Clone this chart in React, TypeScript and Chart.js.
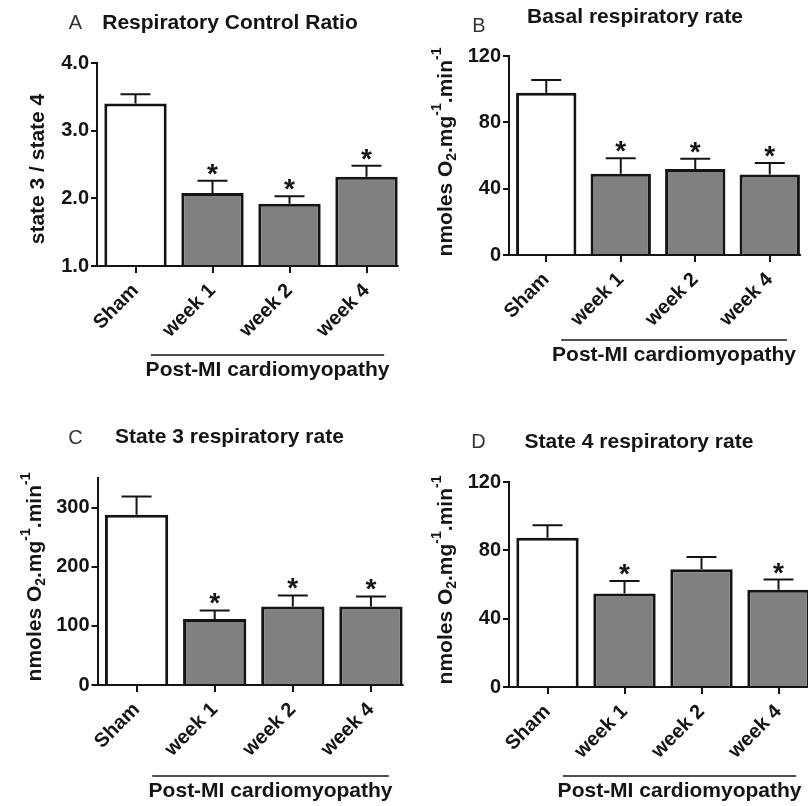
import React, { useEffect, useRef } from 'react';
import { Chart, registerables } from 'chart.js';

Chart.register(...registerables);

// ---------------- data ----------------
const categories = ['Sham', 'week 1', 'week 2', 'week 4'];
const groupLabel = 'Post-MI cardiomyopathy';

const rcrMean = [3.4, 2.08, 1.92, 2.32];
const rcrSem = [0.14, 0.18, 0.11, 0.16];
const rcrSig = [false, true, true, true];

const basalMean = [97.9, 49.0, 51.9, 48.5];
const basalSem = [7.7, 9.3, 6.2, 7.0];
const basalSig = [false, true, true, true];

const state3Mean = [287.7, 111.5, 132.8, 132.8];
const state3Sem = [31.0, 14.5, 18.6, 17.0];
const state3Sig = [false, true, true, true];

const state4Mean = [87.3, 54.7, 68.9, 57.0];
const state4Sem = [7.4, 7.4, 7.2, 5.9];
const state4Sig = [false, true, false, true];

const rcrTicks = [1, 2, 3, 4];
const rateTicks = [0, 40, 80, 120];
const state3Ticks = [0, 100, 200, 300];

const rateTitle: [string, string][] = [
  ['nmoles O', 'n'],
  ['2', 'sub'],
  ['.mg', 'n'],
  ['-1', 'sup'],
  ['.min', 'n'],
  ['-1', 'sup'],
];
const rcrTitle: [string, string][] = [['state 3 / state 4', 'n']];

// ---------------- layout ----------------
const FONT = "'Liberation Sans', Arial, Helvetica, sans-serif";
const INK = '#141414';
const GRAY = '#808080';

type Panel = {
  letter: string;
  title: string;
  yTitle: [string, string][];
  mean: number[];
  sem: number[];
  sig: boolean[];
  ticks: number[];
  yMin: number;
  yMax: number;
  decimals: number;
  box: { x: number; y: number; w: number; h: number };
  area: { left: number; top: number; right: number; bottom: number };
  letterPos: [number, number];
  titlePos: [number, number];
  yTitlePos: [number, number];
  groupDy: number;
};

const panels: Panel[] = [
  {
    letter: 'A', title: 'Respiratory Control Ratio', yTitle: rcrTitle,
    mean: rcrMean, sem: rcrSem, sig: rcrSig, ticks: rcrTicks, yMin: 1, yMax: 4, decimals: 1,
    box: { x: 0, y: 0, w: 410, h: 400 },
    area: { left: 97, top: 63, right: 405, bottom: 266 },
    letterPos: [75.5, 23], titlePos: [230, 23], yTitlePos: [38.5, 169], groupDy: 89,
  },
  {
    letter: 'B', title: 'Basal respiratory rate', yTitle: rateTitle,
    mean: basalMean, sem: basalSem, sig: basalSig, ticks: rateTicks, yMin: 0, yMax: 120, decimals: 0,
    box: { x: 404, y: 0, w: 404, h: 400 },
    area: { left: 509, top: 56, right: 807, bottom: 255 },
    letterPos: [479, 26], titlePos: [635, 17], yTitlePos: [446.5, 152], groupDy: 85,
  },
  {
    letter: 'C', title: 'State 3 respiratory rate', yTitle: rateTitle,
    mean: state3Mean, sem: state3Sem, sig: state3Sig, ticks: state3Ticks, yMin: 0, yMax: 350, decimals: 0,
    box: { x: 0, y: 400, w: 420, h: 406 },
    area: { left: 97.5, top: 478, right: 410, bottom: 685 },
    letterPos: [75.5, 438], titlePos: [229.5, 437], yTitlePos: [35, 577], groupDy: 91,
  },
  {
    letter: 'D', title: 'State 4 respiratory rate', yTitle: rateTitle,
    mean: state4Mean, sem: state4Sem, sig: state4Sig, ticks: rateTicks, yMin: 0, yMax: 120, decimals: 0,
    box: { x: 404, y: 400, w: 420, h: 406 },
    area: { left: 509, top: 482, right: 817, bottom: 687 },
    letterPos: [478.5, 442], titlePos: [639, 442], yTitlePos: [446.5, 580], groupDy: 89,
  },
];

function drawRichVertical(ctx: CanvasRenderingContext2D, parts: [string, string][], cx: number, cy: number) {
  const big = `bold 21px ${FONT}`;
  const small = `bold 14px ${FONT}`;
  ctx.save();
  ctx.textBaseline = 'middle';
  ctx.textAlign = 'left';
  let total = 0;
  const widths = parts.map(([t, k]) => {
    ctx.font = k === 'n' ? big : small;
    const w = ctx.measureText(t).width;
    total += w;
    return w;
  });
  ctx.translate(cx, cy);
  ctx.rotate(-Math.PI / 2);
  let x = -total / 2;
  parts.forEach(([t, k], i) => {
    ctx.font = k === 'n' ? big : small;
    const dy = k === 'sub' ? 6 : k === 'sup' ? -9 : 0;
    ctx.fillStyle = INK;
    ctx.fillText(t, x, dy);
    x += widths[i];
  });
  ctx.restore();
}

function makePlugin(p: Panel) {
  return {
    id: 'panelDecor' + p.letter,
    afterDatasetsDraw(chart: any) {
      const ctx: CanvasRenderingContext2D = chart.ctx;
      const meta = chart.getDatasetMeta(0);
      const ys = chart.scales.y;
      const area = chart.chartArea;
      ctx.save();
      ctx.strokeStyle = INK;
      ctx.lineWidth = 2;
      // x axis line from the y axis to the right edge of the last bar
      const last = meta.data[meta.data.length - 1];
      ctx.beginPath();
      ctx.moveTo(area.left - 1, area.bottom);
      ctx.lineTo(last.x + last.width / 2 + 1, area.bottom);
      ctx.stroke();
      meta.data.forEach((el: any, i: number) => {
        const top = ys.getPixelForValue(p.mean[i] + p.sem[i]);
        const x = el.x;
        ctx.beginPath();
        ctx.moveTo(x, el.y);
        ctx.lineTo(x, top);
        ctx.moveTo(x - 15, top);
        ctx.lineTo(x + 15, top);
        ctx.stroke();
        if (p.sig[i]) {
          ctx.fillStyle = INK;
          ctx.font = `bold 28px ${FONT}`;
          ctx.textAlign = 'center';
          ctx.textBaseline = 'alphabetic';
          ctx.fillText('*', x, top + 2);
        }
      });
      ctx.restore();
    },
    afterDraw(chart: any) {
      const ctx: CanvasRenderingContext2D = chart.ctx;
      const ox = p.box.x;
      const oy = p.box.y;
      ctx.save();
      ctx.fillStyle = '#333';
      ctx.font = `20px ${FONT}`;
      ctx.textAlign = 'center';
      ctx.textBaseline = 'middle';
      ctx.fillText(p.letter, p.letterPos[0] - ox, p.letterPos[1] - oy);
      ctx.fillStyle = INK;
      ctx.font = `bold 21px ${FONT}`;
      ctx.fillText(p.title, p.titlePos[0] - ox, p.titlePos[1] - oy);
      drawRichVertical(ctx, p.yTitle, p.yTitlePos[0] - ox, p.yTitlePos[1] - oy);

      const xs = chart.scales.x;
      const step = xs.getPixelForValue(1) - xs.getPixelForValue(0);
      const x1 = xs.getPixelForValue(1) - 0.8 * step;
      const x2 = xs.getPixelForValue(3) + 0.23 * step;
      const ly = chart.chartArea.bottom + p.groupDy;
      ctx.strokeStyle = INK;
      ctx.lineWidth = 1.5;
      ctx.beginPath();
      ctx.moveTo(x1, ly);
      ctx.lineTo(x2, ly);
      ctx.stroke();
      ctx.textBaseline = 'alphabetic';
      ctx.fillText(groupLabel, (x1 + x2) / 2, ly + 21);
      ctx.restore();
    },
  };
}

function PanelChart({ p }: { p: Panel }) {
  const ref = useRef<HTMLCanvasElement | null>(null);
  useEffect(() => {
    const canvas = ref.current!;
    const local = {
      left: p.area.left - p.box.x,
      top: p.area.top - p.box.y,
      right: p.area.right - p.box.x,
      bottom: p.area.bottom - p.box.y,
    };
    const chart = new Chart(canvas, {
      type: 'bar',
      data: {
        labels: categories,
        datasets: [
          {
            data: p.mean,
            backgroundColor: p.mean.map((_, i) => (i === 0 ? '#ffffff' : GRAY)),
            borderColor: INK,
            borderWidth: 3,
            borderSkipped: 'start',
            barPercentage: 0.81,
            categoryPercentage: 1,
          },
        ],
      },
      options: {
        responsive: false,
        animation: false,
        events: [],
        layout: { padding: { left: 0, top: local.top, right: p.box.w - local.right, bottom: 0 } },
        plugins: { legend: { display: false }, tooltip: { enabled: false }, title: { display: false } },
        scales: {
          x: {
            offset: true,
            grid: { display: true, drawOnChartArea: false, offset: false, tickLength: 7, color: INK, lineWidth: 2 },
            border: { display: false },
            ticks: {
              minRotation: 45,
              maxRotation: 45,
              autoSkip: false,
              color: INK,
              padding: 6,
              font: { family: FONT, size: 20, weight: 'bold' },
            },
            afterFit: (s: any) => {
              s.height = p.box.h - local.bottom;
            },
          },
          y: {
            min: p.yMin,
            max: p.yMax,
            grid: { display: true, drawOnChartArea: false, tickLength: 6, color: INK, lineWidth: 2 },
            border: { display: true, color: INK, width: 2 },
            ticks: {
              color: INK,
              padding: 2,
              font: { family: FONT, size: 20, weight: 'bold' },
              callback: (v: any) => Number(v).toFixed(p.decimals),
            },
            afterBuildTicks: (s: any) => {
              s.ticks = p.ticks.map((v) => ({ value: v }));
            },
            afterFit: (s: any) => {
              s.width = local.left;
            },
          },
        },
      } as any,
      plugins: [makePlugin(p)],
    });
    return () => chart.destroy();
  }, [p]);
  return (
    <canvas
      ref={ref}
      width={p.box.w}
      height={p.box.h}
      style={{ position: 'absolute', left: p.box.x, top: p.box.y, width: p.box.w, height: p.box.h }}
    />
  );
}

export default function App() {
  return (
    <div
      style={{
        position: 'absolute',
        left: 0,
        top: 0,
        width: 808,
        height: 806,
        overflow: 'hidden',
        background: '#ffffff',
      }}
    >
      {panels.map((p) => (
        <PanelChart key={p.letter} p={p} />
      ))}
    </div>
  );
}
